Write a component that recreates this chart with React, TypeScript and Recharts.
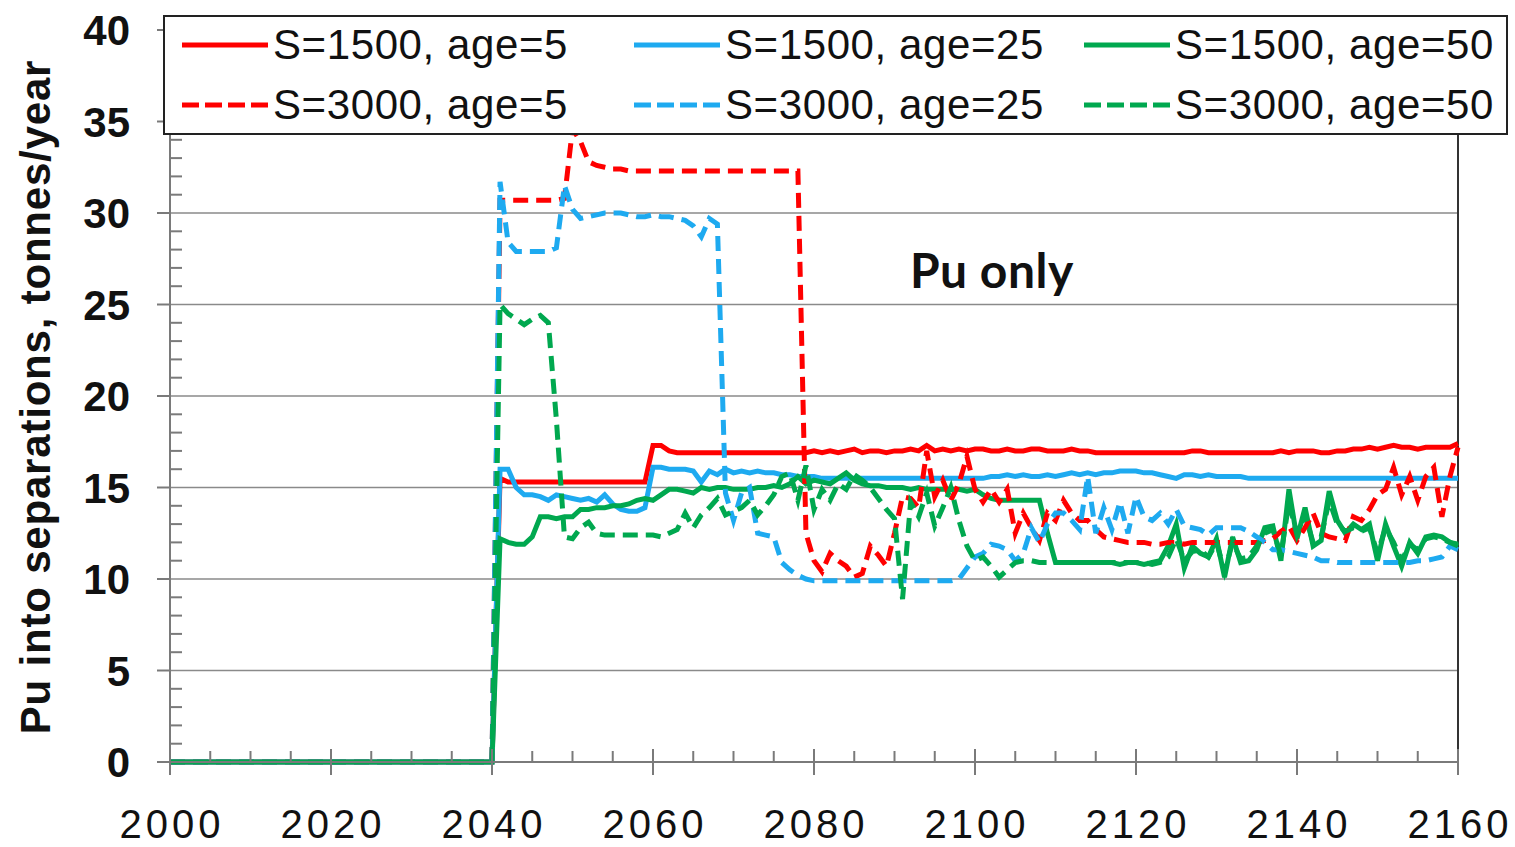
import { CartesianGrid, Line, LineChart, ReferenceLine, XAxis, YAxis } from "recharts";

const FONT = '"Liberation Sans", Arial, sans-serif';

// x positions: the start, the last zero year, then every year 2041..2160
const years = [2000, 2040, ...Array.from({ length: 120 }, (_, i) => 2041 + i)];

const s1500a5 = [
  0, 0,
  15.5, 15.3, 15.3, 15.3, 15.3, 15.3, 15.3, 15.3, 15.3, 15.3,
  15.3, 15.3, 15.3, 15.3, 15.3, 15.3, 15.3, 15.3, 15.3, 17.3,
  17.3, 17.0, 16.9, 16.9, 16.9, 16.9, 16.9, 16.9, 16.9, 16.9,
  16.9, 16.9, 16.9, 16.9, 16.9, 16.9, 16.9, 16.9, 16.9, 17.0,
  16.9, 17.0, 16.9, 17.0, 17.1, 16.9, 17.0, 17.0, 16.9, 17.0,
  17.0, 17.1, 17.0, 17.3, 17.0, 17.1, 17.0, 17.1, 17.0, 17.1,
  17.1, 17.0, 17.0, 17.1, 17.0, 17.0, 17.1, 17.1, 17.0, 17.0,
  17.0, 17.1, 17.0, 17.0, 16.9, 16.9, 16.9, 16.9, 16.9, 16.9,
  16.9, 16.9, 16.9, 16.9, 16.9, 16.9, 17.0, 17.0, 16.9, 16.9,
  16.9, 16.9, 16.9, 16.9, 16.9, 16.9, 16.9, 17.0, 16.9, 17.0,
  17.0, 17.0, 16.9, 16.9, 17.0, 17.0, 17.1, 17.1, 17.2, 17.1,
  17.2, 17.3, 17.2, 17.2, 17.1, 17.2, 17.2, 17.2, 17.2, 17.4,
];

const s1500a25 = [
  0, 0,
  16.0, 16.0, 15.0, 14.6, 14.6, 14.5, 14.3, 14.6, 14.5, 14.4,
  14.3, 14.4, 14.2, 14.6, 14.1, 13.8, 13.7, 13.7, 13.9, 16.1,
  16.1, 16.0, 16.0, 16.0, 15.9, 15.3, 15.9, 15.7, 16.0, 15.8,
  15.9, 15.8, 15.9, 15.8, 15.8, 15.7, 15.7, 15.6, 15.6, 15.6,
  15.5, 15.5, 15.5, 15.5, 15.5, 15.5, 15.5, 15.5, 15.5, 15.5,
  15.5, 15.5, 15.5, 15.5, 15.5, 15.5, 15.5, 15.5, 15.5, 15.5,
  15.5, 15.6, 15.6, 15.7, 15.6, 15.7, 15.6, 15.6, 15.7, 15.6,
  15.7, 15.8, 15.7, 15.8, 15.7, 15.8, 15.8, 15.9, 15.9, 15.9,
  15.8, 15.8, 15.7, 15.6, 15.5, 15.7, 15.7, 15.6, 15.7, 15.6,
  15.6, 15.6, 15.6, 15.5, 15.5, 15.5, 15.5, 15.5, 15.5, 15.5,
  15.5, 15.5, 15.5, 15.5, 15.5, 15.5, 15.5, 15.5, 15.5, 15.5,
  15.5, 15.5, 15.5, 15.5, 15.5, 15.5, 15.5, 15.5, 15.5, 15.5,
];

const s1500a50 = [
  0, 0,
  12.2, 12.0, 11.9, 11.9, 12.3, 13.4, 13.4, 13.3, 13.4, 13.4,
  13.8, 13.8, 13.9, 13.9, 14.0, 14.0, 14.1, 14.3, 14.4, 14.3,
  14.6, 14.9, 14.9, 14.8, 14.7, 15.0, 14.9, 15.0, 15.0, 14.9,
  14.9, 14.9, 15.0, 15.0, 15.1, 15.0, 15.2, 15.6, 15.2, 15.4,
  15.3, 15.2, 15.5, 15.8, 15.4, 15.2, 15.1, 15.1, 15.0, 15.0,
  15.0, 14.9, 15.0, 14.9, 14.9, 14.9, 14.9, 14.9, 14.8, 14.9,
  14.6, 14.4, 14.3, 14.3, 14.3, 14.3, 14.3, 14.3, 12.5, 10.9,
  10.9, 10.9, 10.9, 10.9, 10.9, 10.9, 10.9, 10.8, 10.9, 10.9,
  10.8, 10.9, 11.0, 11.8, 13.0, 10.6, 11.8, 11.4, 11.2, 12.2,
  10.1, 12.3, 10.9, 11.0, 11.6, 12.8, 12.9, 11.0, 14.9, 12.2,
  13.9, 11.8, 12.1, 14.8, 13.2, 12.5, 13.0, 12.7, 13.0, 11.0,
  13.0, 11.8, 10.7, 12.0, 11.4, 12.3, 12.4, 12.3, 12.0, 11.9,
];

const s3000a5 = [
  0, 0,
  30.7, 30.7, 30.7, 30.7, 30.7, 30.7, 30.7, 30.7, 30.8, 34.6,
  33.9, 32.8, 32.6, 32.5, 32.4, 32.4, 32.3, 32.3, 32.3, 32.3,
  32.3, 32.3, 32.3, 32.3, 32.3, 32.3, 32.3, 32.3, 32.3, 32.3,
  32.3, 32.3, 32.3, 32.3, 32.3, 32.3, 32.3, 32.3, 12.5, 11.0,
  10.4, 11.4, 11.0, 10.7, 10.1, 10.3, 11.8, 11.3, 10.7, 12.5,
  14.5, 14.4, 13.9, 17.0, 14.5, 15.4, 14.3, 15.2, 16.7, 14.9,
  14.2, 14.9, 14.2, 14.9, 12.5, 13.6, 12.8, 12.1, 13.6, 13.2,
  14.3, 13.6, 13.2, 13.2, 12.7, 12.3, 12.2, 12.1, 12.0, 12.0,
  12.0, 11.9, 11.9, 12.0, 12.0, 11.9, 12.0, 12.0, 12.0, 12.0,
  12.0, 12.0, 12.0, 12.0, 12.0, 12.1, 12.2, 12.6, 12.9, 12.1,
  12.8, 13.6, 12.5, 12.3, 12.2, 12.1, 13.4, 13.2, 13.8, 14.6,
  14.9, 16.1, 14.6, 15.6, 14.3, 15.6, 16.1, 13.4, 15.6, 17.2,
];

const s3000a25 = [
  0, 0,
  31.7, 28.4, 27.9, 27.9, 27.9, 27.9, 27.9, 28.1, 31.5, 30.2,
  29.7, 29.8, 29.9, 30.0, 30.0, 30.0, 29.9, 29.8, 29.8, 29.9,
  29.8, 29.8, 29.7, 29.6, 29.3, 28.7, 29.7, 29.4, 14.7, 13.2,
  14.7, 15.0, 12.5, 12.4, 12.3, 10.9, 10.5, 10.2, 10.0, 9.9,
  9.9, 9.9, 9.9, 9.9, 9.9, 9.9, 9.9, 9.9, 9.9, 9.9,
  9.9, 9.9, 9.9, 9.9, 9.9, 9.9, 9.9, 10.0, 10.6, 11.2,
  11.4, 11.9, 11.8, 11.6, 11.0, 11.4, 12.8, 12.0, 13.0, 13.6,
  13.6, 13.2, 12.7, 15.6, 12.5, 13.9, 12.7, 14.2, 12.5, 14.5,
  13.4, 13.2, 13.6, 13.0, 13.8, 12.9, 12.8, 12.7, 12.4, 12.8,
  12.8, 12.8, 12.8, 12.6, 12.3, 12.0, 11.6, 11.6, 11.5, 11.4,
  11.3, 11.2, 11.0, 11.0, 10.9, 10.9, 10.9, 10.9, 10.9, 10.9,
  10.9, 10.9, 10.9, 10.9, 11.0, 11.0, 11.1, 11.2, 11.8, 11.6,
];

const s3000a50 = [
  0, 0,
  25.0, 24.5, 24.2, 23.9, 24.2, 24.4, 24.0, 18.7, 12.3, 12.2,
  12.8, 13.1, 12.5, 12.4, 12.4, 12.4, 12.4, 12.4, 12.4, 12.4,
  12.3, 12.5, 12.7, 13.6, 12.8, 13.5, 13.9, 14.4, 13.5, 13.7,
  13.9, 14.3, 13.5, 14.0, 14.6, 15.6, 15.8, 14.3, 16.2, 13.8,
  14.9, 14.3, 15.2, 14.9, 15.7, 15.4, 15.0, 14.4, 13.8, 13.3,
  8.9, 14.2, 13.4, 14.7, 12.9, 13.9, 15.0, 13.2, 11.8, 11.0,
  11.2, 10.7, 10.1, 10.5, 10.9, 11.0, 11.0, 10.9, 10.9, 10.9,
  10.9, 10.9, 10.9, 10.9, 10.9, 10.9, 10.9, 10.9, 10.9, 10.9,
  10.9, 10.8, 10.9, 11.2, 12.2, 11.0, 11.5, 11.6, 11.2, 12.0,
  10.4, 12.0, 11.1, 11.2, 11.8, 12.5, 12.7, 11.3, 14.2, 12.4,
  13.5, 12.0, 12.3, 14.3, 13.0, 12.6, 12.8, 12.6, 12.8, 11.4,
  12.8, 12.0, 11.0, 11.9, 11.6, 12.2, 12.3, 12.2, 12.0, 11.8,
];

const xTicks = [
  2000, 2005, 2010, 2015, 2020, 2025, 2030, 2035, 2040, 2045, 2050, 2055,
  2060, 2065, 2070, 2075, 2080, 2085, 2090, 2095, 2100, 2105, 2110, 2115,
  2120, 2125, 2130, 2135, 2140, 2145, 2150, 2155, 2160,
];
const yTicks = Array.from({ length: 41 }, (_, i) => i);
const gridValues = [5, 10, 15, 20, 25, 30, 35];

const series = [
  { key: "s1500a5", name: "S=1500, age=5", color: "#ff0000", dash: undefined },
  { key: "s1500a25", name: "S=1500, age=25", color: "#1eaaf0", dash: undefined },
  { key: "s1500a50", name: "S=1500, age=50", color: "#00a84f", dash: undefined },
  { key: "s3000a5", name: "S=3000, age=5", color: "#ff0000", dash: "15 8" },
  { key: "s3000a25", name: "S=3000, age=25", color: "#1eaaf0", dash: "15 8" },
  { key: "s3000a50", name: "S=3000, age=50", color: "#00a84f", dash: "15 8" },
];

const data = years.map((year, i) => ({
  year,
  s1500a5: s1500a5[i],
  s1500a25: s1500a25[i],
  s1500a50: s1500a50[i],
  s3000a5: s3000a5[i],
  s3000a25: s3000a25[i],
  s3000a50: s3000a50[i],
}));

const AXIS = "#7a7a7a";

function XTick({ x, y, payload }: any) {
  const v = payload.value;
  if (v % 20 !== 0) {
    return <line x1={x} x2={x} y1={y - 11} y2={y} stroke={AXIS} strokeWidth={2} />;
  }
  return (
    <g>
      <line x1={x} x2={x} y1={y - 13} y2={y + 13} stroke={AXIS} strokeWidth={2} />
      <text x={x + 2} y={y + 76} textAnchor="middle" fontSize={40} letterSpacing={4} fill="#111" fontFamily={FONT}>
        {v}
      </text>
    </g>
  );
}

function YTick({ x, y, payload }: any) {
  const v = payload.value;
  if (v % 5 !== 0) {
    return <line x1={x} x2={x + 12} y1={y} y2={y} stroke={AXIS} strokeWidth={2} />;
  }
  return (
    <g>
      <line x1={x - 13} x2={x} y1={y} y2={y} stroke={AXIS} strokeWidth={2} />
      <text x={130} y={y + 15} textAnchor="end" fontSize={42} fontWeight="bold" fill="#111" fontFamily={FONT}>
        {v}
      </text>
    </g>
  );
}

function LegendBox() {
  const cols = [17, 469, 919];
  return (
    <div
      style={{
        position: "absolute",
        left: 163,
        top: 15,
        width: 1341,
        height: 116,
        border: "2px solid #222",
        background: "#fff",
        fontFamily: FONT,
      }}
    >
      {series.map((s, i) => (
        <div
          key={s.key}
          style={{
            position: "absolute",
            left: cols[i % 3],
            top: (i < 3 ? 28 : 88) - 25,
            height: 50,
            display: "flex",
            alignItems: "center",
            whiteSpace: "nowrap",
          }}
        >
          <svg width={88} height={10} style={{ marginRight: 3 }}>
            <line x1={0} x2={86} y1={5} y2={5} stroke={s.color} strokeWidth={5} strokeDasharray={s.dash ? "17 6" : undefined} />
          </svg>
          <span style={{ fontSize: 42, letterSpacing: 0.6, color: "#111" }}>{s.name}</span>
        </div>
      ))}
    </div>
  );
}

export default function App() {
  return (
    <div style={{ position: "absolute", left: 0, top: 0, width: 1515, height: 847, background: "#fff" }}>
      <LineChart width={1515} height={847} data={data} margin={{ top: 30, right: 57, bottom: 0, left: 0 }}>
        <CartesianGrid horizontal vertical={false} horizontalValues={gridValues} stroke="#8a8a8a" strokeWidth={1.5} />
        <XAxis
          dataKey="year"
          type="number"
          domain={[2000, 2160]}
          ticks={xTicks}
          interval={0}
          height={85}
          tickSize={0}
          tickMargin={0}
          tickLine={false}
          axisLine={{ stroke: AXIS, strokeWidth: 2 }}
          tick={<XTick />}
        />
        <YAxis
          type="number"
          domain={[0, 40]}
          ticks={yTicks}
          interval={0}
          width={170}
          tickSize={0}
          tickMargin={0}
          tickLine={false}
          axisLine={{ stroke: AXIS, strokeWidth: 2 }}
          tick={<YTick />}
        />
        <ReferenceLine x={2160} stroke="#333" strokeWidth={2} />
        {series.map((s) => (
          <Line
            key={s.key}
            type="linear"
            dataKey={s.key}
            name={s.name}
            stroke={s.color}
            strokeWidth={5}
            strokeDasharray={s.dash}
            dot={false}
            activeDot={false}
            isAnimationActive={false}
          />
        ))}
      </LineChart>
      <LegendBox />
      <svg width={1515} height={847} style={{ position: "absolute", left: 0, top: 0, pointerEvents: "none" }}>
        <text
          x={35}
          y={397}
          transform="rotate(-90 35 397)"
          textAnchor="middle"
          dominantBaseline="central"
          fontSize={42}
          fontWeight="bold"
          letterSpacing={0.8}
          fill="#111"
          fontFamily={FONT}
        >
          Pu into separations, tonnes/year
        </text>
        <text x={910} y={288} fontSize={48} fontWeight="bold" letterSpacing={0.5} fill="#111" fontFamily="Lato, 'Open Sans', sans-serif">
          Pu only
        </text>
      </svg>
    </div>
  );
}
